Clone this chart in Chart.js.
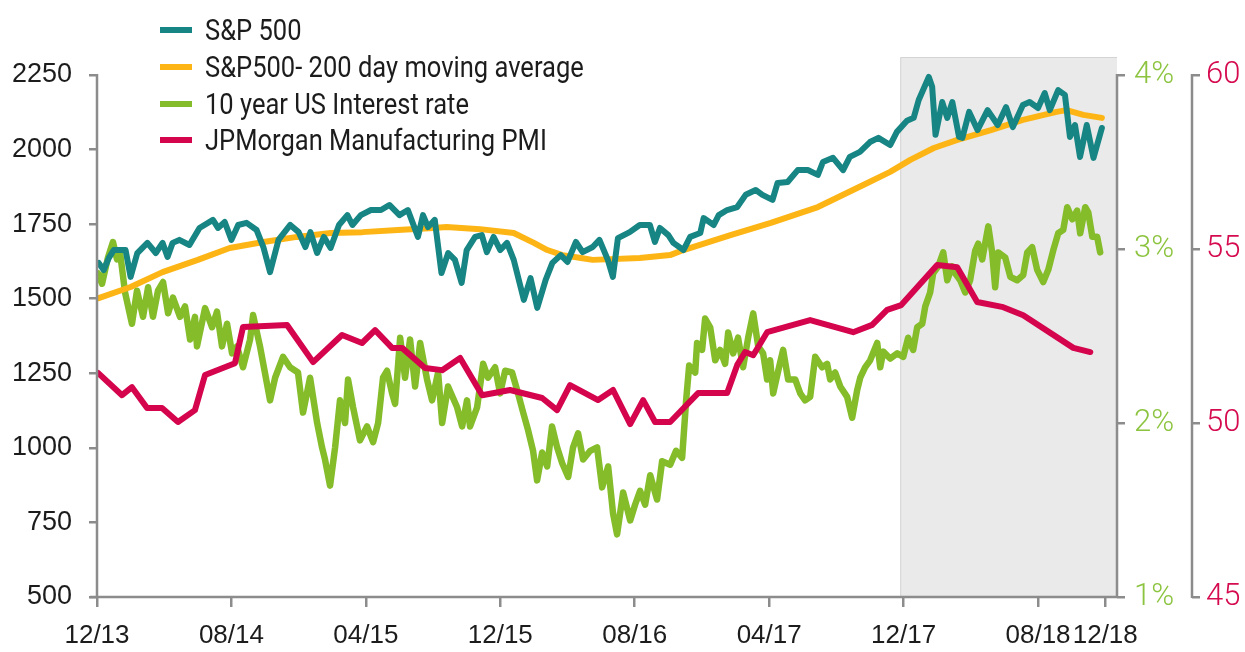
<!DOCTYPE html>
<html>
<head>
<meta charset="utf-8">
<script src="https://cdn.jsdelivr.net/npm/chart.js@4.4.0/dist/chart.umd.min.js"></script>
<style>
  body { margin: 0; background: #fff; }
  #wrap { position: relative; width: 1245px; height: 652px; }
  #legend { position: absolute; left: 160px; top: 12px; font-family: Roboto, sans-serif; font-size: 29px; color: #1c1c1c; }
  #legend .row { height: 36.7px; display: flex; align-items: center; white-space: nowrap; }
  #legend .sw { width: 32px; height: 6px; margin-right: 13px; }
  #legend .tx { display: inline-block; transform: scaleX(0.88); transform-origin: left center; }
</style>
</head>
<body>
<div id="wrap">
  <canvas id="c" width="1245" height="652"></canvas>
  <div id="legend"></div>
</div>
<script>
// x axis: months after Dec 2013
const tickMonths = [0, 8, 16, 24, 32, 40, 48, 56, 60];
const tickLabels = ['12/13', '08/14', '04/15', '12/15', '08/16', '04/17', '12/17', '08/18', '12/18'];
const leftTicks = [500, 750, 1000, 1250, 1500, 1750, 2000, 2250];
const rateTicks = [1, 2, 3, 4];
const pmiTicks = [45, 50, 55, 60];
const shadeFrom = 47.8;

const seriesNames = ['S&P 500', 'S&P500- 200 day moving average', '10 year US Interest rate', 'JPMorgan Manufacturing PMI'];

const spMonths = [0.1,0.4,0.7,1.0,1.4,1.7,2.0,2.4,3.0,3.5,3.9,4.2,4.5,4.9,5.5,6.1,6.9,7.2,7.6,8.0,8.4,8.9,9.5,9.9,10.3,10.8,11.5,12.0,12.4,12.7,
  13.1,13.5,13.9,14.4,14.9,15.2,15.7,16.3,16.9,17.4,18.0,18.5,19.1,19.4,19.7,20.1,20.5,20.9,21.3,21.7,22.0,22.5,22.9,23.2,23.6,24.0,24.4,24.8,25.4,25.8,
  26.2,26.7,27.1,27.6,28.0,28.5,28.9,29.5,29.9,30.4,30.7,31.0,31.7,32.3,32.9,33.2,33.5,34.0,34.3,34.9,35.3,35.9,36.1,36.7,37.0,37.5,38.1,38.6,39.2,39.6,
  40.2,40.5,41.1,41.7,42.3,42.9,43.2,43.8,44.4,44.8,45.4,46.0,46.5,47.2,47.6,48.2,48.6,48.9,49.5,49.7,49.9,50.3,50.6,50.9,51.3,51.5,51.9,52.4,53.0,53.6,
  54.1,54.5,55.1,55.5,56.0,56.4,56.7,57.2,57.6,57.9,58.2,58.5,58.9,59.3,59.8];
const spValues = [1620,1596,1636,1663,1663,1663,1573,1653,1687,1653,1687,1640,1687,1697,1680,1737,1764,1737,1757,1697,1747,1754,1730,1673,1589,1697,1747,1723,1673,1723,
  1653,1707,1670,1747,1780,1747,1780,1797,1797,1814,1780,1797,1707,1780,1740,1764,1586,1653,1630,1553,1663,1707,1713,1656,1707,1663,1687,1630,1496,1569,
  1469,1563,1620,1646,1623,1690,1656,1673,1697,1630,1573,1703,1723,1747,1747,1690,1737,1713,1687,1663,1707,1720,1770,1747,1780,1797,1807,1848,1864,1848,
  1831,1888,1891,1931,1931,1915,1958,1972,1931,1975,1992,2025,2039,2015,2059,2096,2106,2166,2243,2210,2049,2159,2106,2159,2042,2039,2126,2065,2132,2082,
  2142,2075,2149,2159,2139,2189,2132,2199,2183,2042,2082,1975,2082,1972,2072];

const maMonths = [0.1,2.0,3.9,6.0,7.9,9.9,11.9,13.9,15.8,17.9,20.0,20.8,22.8,24.8,26.0,26.8,27.7,28.8,29.5,32.3,34.1,34.9,37.7,40.1,42.9,45.6,47.2,48.4,49.8,51.2,
  53.2,55.1,57.1,57.7,58.7,59.8];
const maValues = [1502,1539,1589,1630,1670,1690,1707,1720,1723,1730,1737,1740,1733,1720,1687,1663,1646,1636,1630,1636,1646,1663,1713,1754,1807,1881,1925,1965,2005,2032,
  2065,2099,2126,2132,2116,2106];

const rateMonths = [0.06,0.30,0.65,0.95,1.19,1.37,1.67,2.08,2.38,2.74,3.04,3.33,3.63,3.93,4.23,4.52,4.94,5.24,5.54,5.83,5.95,6.43,6.85,7.14,7.44,7.74,8.04,8.33,8.69,9.11,
  9.29,9.70,10.30,10.60,11.07,11.49,11.96,12.26,12.68,13.10,13.39,13.57,13.87,14.17,14.46,14.76,14.94,15.24,15.65,16.07,16.43,16.73,17.02,17.26,17.56,17.74,18.04,18.33,18.63,18.93,
  19.23,19.64,19.94,20.30,20.54,20.89,21.43,21.73,22.02,22.20,22.62,22.98,23.27,23.69,23.99,24.29,24.70,25.00,25.36,25.65,25.95,26.19,26.49,26.79,27.08,27.38,27.68,28.04,28.33,28.63,
  28.93,29.35,29.76,30.06,30.42,30.71,30.95,31.31,31.73,32.02,32.32,32.62,32.92,33.33,33.63,34.11,34.46,34.82,35.06,35.24,35.60,35.71,36.01,36.19,36.49,36.79,37.08,37.38,37.56,37.86,
  38.15,38.45,38.75,39.05,39.35,39.64,39.88,40.06,40.24,40.54,40.83,41.13,41.55,41.85,42.14,42.44,42.74,43.15,43.45,43.63,43.93,44.23,44.64,44.94,45.24,45.42,45.71,46.01,46.43,46.61,
  46.79,47.20,47.62,47.98,48.27,48.57,48.81,49.11,49.29,49.58,49.76,50.06,50.36,50.60,50.89,51.07,51.37,51.67,51.96,52.26,52.44,52.68,53.04,53.27,53.45,53.63,54.05,54.35,54.76,55.12,
  55.36,55.65,55.95,56.31,56.61,56.90,57.20,57.50,57.74,58.04,58.33,58.51,58.81,58.99,59.23,59.52,59.70];
const rateValues = [2.86,2.80,2.95,3.04,2.94,2.98,2.75,2.57,2.76,2.61,2.78,2.61,2.76,2.81,2.63,2.72,2.61,2.67,2.48,2.61,2.44,2.66,2.55,2.64,2.44,2.57,2.40,2.44,2.32,2.48,
  2.62,2.44,2.13,2.26,2.38,2.32,2.29,2.06,2.26,2.00,1.86,1.79,1.64,1.86,2.13,2.00,2.25,2.09,1.90,1.98,1.89,2.00,2.26,2.30,2.17,2.11,2.49,2.26,2.48,2.21,
  2.46,2.25,2.13,2.29,2.00,2.21,2.09,1.98,2.13,1.98,2.09,2.34,2.26,2.32,2.17,2.30,2.29,2.19,2.06,1.96,1.84,1.67,1.83,1.75,1.98,1.86,1.77,1.69,1.86,1.94,
  1.79,1.84,1.86,1.63,1.75,1.48,1.36,1.60,1.44,1.53,1.61,1.53,1.70,1.56,1.78,1.76,1.84,1.80,2.13,2.33,2.29,2.46,2.42,2.60,2.55,2.36,2.42,2.34,2.52,2.40,
  2.49,2.32,2.49,2.63,2.44,2.40,2.25,2.36,2.17,2.30,2.42,2.25,2.25,2.17,2.13,2.15,2.38,2.32,2.34,2.25,2.29,2.21,2.15,2.03,2.19,2.26,2.32,2.36,2.46,2.32,
  2.41,2.37,2.40,2.38,2.49,2.42,2.55,2.57,2.67,2.75,2.86,2.90,2.98,2.82,2.90,2.86,2.82,2.75,2.82,2.99,3.03,2.94,3.13,2.98,2.78,2.98,2.95,2.84,2.82,2.85,
  2.98,3.01,2.88,2.81,2.88,2.99,3.09,3.11,3.24,3.17,3.22,3.09,3.24,3.21,3.07,3.07,2.98];

const pmiMonths = [0.06,1.49,2.08,2.98,3.87,4.82,5.83,6.43,8.21,8.69,11.31,12.86,14.58,15.77,16.55,17.56,18.15,19.52,20.54,21.61,22.92,24.58,26.49,27.38,28.15,29.82,30.71,31.73,32.50,33.21,
  34.11,35.77,37.50,38.10,38.57,39.05,39.88,42.44,45.00,46.13,47.02,47.86,50.00,51.19,52.38,53.93,55.12,58.10,59.11];
const pmiValues = [51.44,50.80,51.03,50.43,50.43,50.03,50.37,51.38,51.72,52.76,52.82,51.75,52.53,52.30,52.67,52.16,52.16,51.58,51.52,51.87,50.80,50.95,50.72,50.37,51.09,50.66,50.95,49.97,50.66,50.03,
  50.03,50.86,50.86,51.67,52.04,51.95,52.61,52.96,52.61,52.82,53.25,53.39,54.54,54.48,53.48,53.33,53.10,52.16,52.04];

const COLORS = { sp: '#168583', ma: '#FDB515', rate: '#84BC2A', pmi: '#D4044D', axis: '#8c8c8c', shade: '#eaeaea' };
const xFont = { family: "'Liberation Sans', Arial, sans-serif", size: 26 };
const leftFont = { family: "'Liberation Sans', Arial, sans-serif", size: 27 };
const rightFont = { family: "Roboto, sans-serif", size: 31, weight: 300 };

const pts = (xs, ys) => xs.map((x, i) => ({ x, y: ys[i] }));

const frame = {
  id: 'frame',
  beforeDatasetsDraw(chart) {
    const { ctx, chartArea: a, scales } = chart;
    const x0 = scales.x.getPixelForValue(shadeFrom);
    ctx.save();
    ctx.fillStyle = COLORS.shade;
    ctx.fillRect(x0, a.top, a.right - x0, a.bottom - a.top);
    ctx.strokeStyle = '#d4d4d4';
    ctx.lineWidth = 1;
    ctx.beginPath();
    ctx.moveTo(x0 + 0.5, a.bottom);
    ctx.lineTo(x0 + 0.5, a.top + 0.5);
    ctx.lineTo(a.right, a.top + 0.5);
    ctx.stroke();
    ctx.restore();
  },
  afterDatasetsDraw(chart) {
    const { ctx, chartArea: a, scales } = chart;
    ctx.save();
    ctx.strokeStyle = COLORS.axis;
    ctx.lineWidth = 2.5;
    ctx.beginPath();
    ctx.moveTo(a.left, scales.y.getPixelForValue(2250) - 1);
    ctx.lineTo(a.left, a.bottom);
    ctx.moveTo(a.left - 7, a.bottom);
    ctx.lineTo(a.right, a.bottom);
    ctx.moveTo(a.right, scales.yRate.getPixelForValue(4) - 1);
    ctx.lineTo(a.right, a.bottom + 1);
    const xr = scales.yPmi.left;
    ctx.moveTo(xr, scales.yPmi.getPixelForValue(60) - 1);
    ctx.lineTo(xr, scales.yPmi.getPixelForValue(45) + 1);
    ctx.stroke();
    ctx.restore();
  }
};

const tickGrid = (len) => ({ display: true, drawOnChartArea: false, drawTicks: true, tickLength: len, color: COLORS.axis, lineWidth: 2.5 });

new Chart(document.getElementById('c'), {
  type: 'line',
  data: {
    datasets: [
      { label: seriesNames[0], data: pts(spMonths, spValues), borderColor: COLORS.sp, yAxisID: 'y', order: 0 },
      { label: seriesNames[1], data: pts(maMonths, maValues), borderColor: COLORS.ma, yAxisID: 'y', order: 1 },
      { label: seriesNames[2], data: pts(rateMonths, rateValues), borderColor: COLORS.rate, borderWidth: 6.5, yAxisID: 'yRate', order: 3 },
      { label: seriesNames[3], data: pts(pmiMonths, pmiValues), borderColor: COLORS.pmi, yAxisID: 'yPmi', order: 2 }
    ]
  },
  options: {
    responsive: false,
    animation: false,
    devicePixelRatio: 1,
    layout: { padding: { top: 57, left: 0, right: 0, bottom: 0 } },
    elements: {
      point: { radius: 0 },
      line: { borderWidth: 6, tension: 0, borderJoinStyle: 'round', borderCapStyle: 'round' }
    },
    plugins: { legend: { display: false }, tooltip: { enabled: false } },
    scales: {
      x: {
        type: 'linear', min: 0, max: 60.7,
        afterBuildTicks: s => { s.ticks = tickMonths.map(v => ({ value: v })); },
        afterFit: s => { s.height = 55; },
        grid: tickGrid(10), border: { display: false },
        ticks: { autoSkip: false, maxRotation: 0, padding: 13, color: '#1c1c1c', font: xFont,
          callback: v => tickLabels[tickMonths.indexOf(v)] }
      },
      y: {
        position: 'left', min: 500, max: 2310,
        afterBuildTicks: s => { s.ticks = leftTicks.map(v => ({ value: v })); },
        afterFit: s => { s.width = 97; },
        grid: tickGrid(8), border: { display: false },
        ticks: { padding: 17, color: '#1c1c1c', font: leftFont, callback: v => String(v) }
      },
      yRate: {
        position: 'right', weight: 1, min: 1, max: 4.103,
        afterBuildTicks: s => { s.ticks = rateTicks.map(v => ({ value: v })); },
        afterFit: s => { s.width = 75; },
        grid: tickGrid(8), border: { display: false },
        ticks: { padding: 9, color: '#8cc43f', font: rightFont, callback: v => v + '%' }
      },
      yPmi: {
        position: 'right', weight: 2, min: 45, max: 60.52,
        afterBuildTicks: s => { s.ticks = pmiTicks.map(v => ({ value: v })); },
        afterFit: s => { s.width = 53; },
        grid: tickGrid(8), border: { display: false },
        ticks: { padding: 6, color: '#d50a4f', font: rightFont }
      }
    }
  },
  plugins: [frame]
});

// legend
const legendColors = [COLORS.sp, COLORS.ma, COLORS.rate, COLORS.pmi];
document.getElementById('legend').innerHTML = seriesNames.map((n, i) =>
  `<div class="row"><span class="sw" style="background:${legendColors[i]}"></span><span class="tx">${n.replace('&', '&amp;')}</span></div>`).join('');
</script>
</body>
</html>
